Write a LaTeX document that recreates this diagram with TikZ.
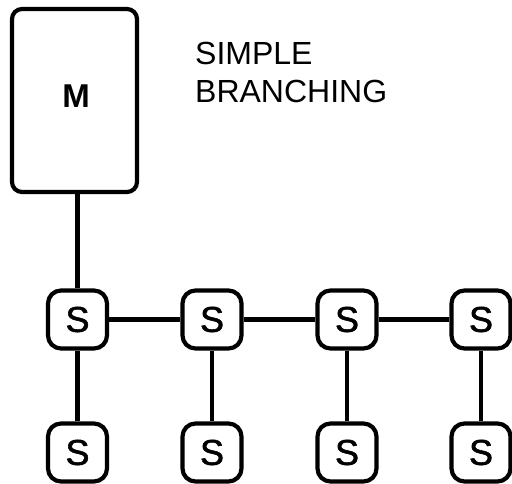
\documentclass[tikz,border=0pt]{standalone}
\usepackage{fontspec}
\setmainfont{Liberation Sans}
\begin{document}
\begin{tikzpicture}[x=1pt,y=1pt,
  sbox/.style={draw,line width=4.2pt,rounded corners=13pt,minimum width=59pt,minimum height=58pt,inner sep=0pt,font=\fontsize{36}{36}\selectfont\addfontfeature{FakeBold=1.5}},
  mbox/.style={draw,line width=4.2pt,rounded corners=10pt,minimum width=125pt,minimum height=183pt,inner sep=0pt},
  conn/.style={line width=4.2pt},
  title/.style={anchor=base west,inner sep=0pt,font=\fontsize{32}{38}\selectfont}]
\useasboundingbox (0,0) rectangle (512,-484);
\node[mbox] (m) at (74.5,-100.5) {};
\node[inner sep=0pt,font=\bfseries\fontsize{33}{33}\selectfont] (mlabel) at (76,-96) {M};
\node[title] (t1) at (195,-65) {SIMPLE};
\node[title] (t2) at (195,-102.5) {BRANCHING};
\foreach \i/\x in {1/77.5,2/212,3/347,4/481}{
  \node[sbox] (a\i) at (\x,-319.5) {S};
  \node[sbox] (b\i) at (\x,-452.5) {S};
  \draw[conn] (a\i) -- (b\i);
}
\draw[conn] (m.south -| a1) -- (a1);
\draw[conn] (a1) -- (a2);
\draw[conn] (a2) -- (a3);
\draw[conn] (a3) -- (a4);
\end{tikzpicture}
\end{document}
